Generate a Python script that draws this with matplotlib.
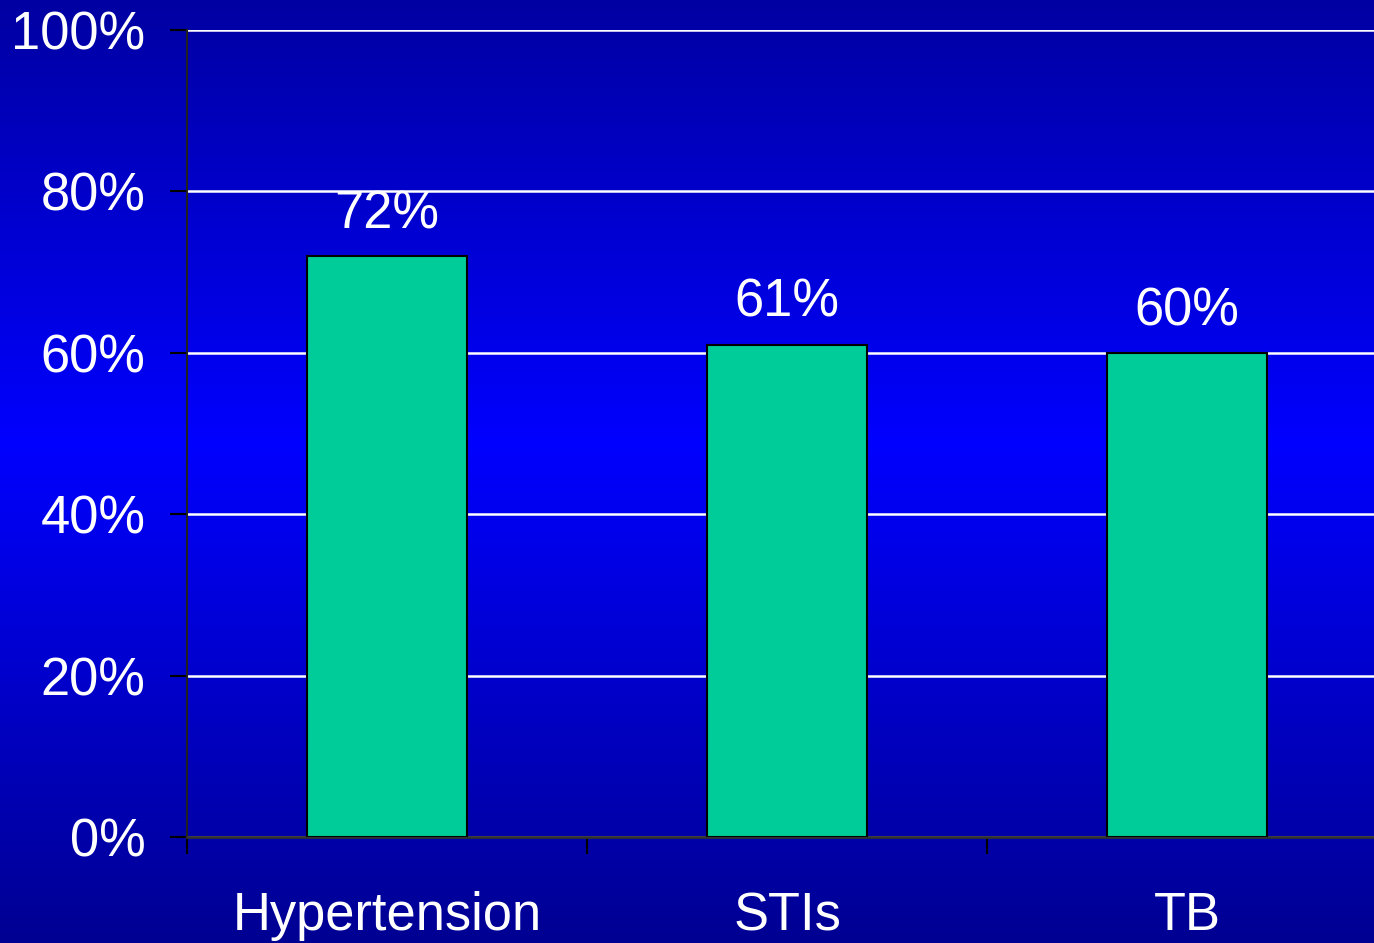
import numpy as np
import matplotlib.pyplot as plt
from matplotlib.colors import LinearSegmentedColormap
from matplotlib.ticker import FixedLocator

plt.rcParams['font.family'] = ['Liberation Sans', 'DejaVu Sans']

categories = ['Hypertension', 'STIs', 'TB']
values = [72, 61, 60]
value_labels = ['72%', '61%', '60%']
y_ticks = [0, 20, 40, 60, 80, 100]
y_tick_labels = ['0%', '20%', '40%', '60%', '80%', '100%']

fig = plt.figure(figsize=(13.74, 9.43), dpi=100)

# vertical gradient background
bg = fig.add_axes([0, 0, 1, 1], zorder=0)
cmap = LinearSegmentedColormap.from_list(
    'bg', [(0.0, '#0000A2'), (0.47, '#0000FF'), (1.0, '#000092')])
grad = np.linspace(0, 1, 256).reshape(-1, 1)
bg.imshow(grad, aspect='auto', cmap=cmap, extent=[0, 1, 0, 1], origin='upper')
bg.set_axis_off()

ax = fig.add_axes([187/1374, 106/943, 1200/1374, 807/943], zorder=1)
ax.patch.set_alpha(0)

x = np.arange(len(categories))
bars = ax.bar(x, values, width=0.4, color='#00CC99', edgecolor='black',
              linewidth=1.5, zorder=3)

fs = 37.8
for xi, v, lab in zip(x, values, value_labels):
    ax.annotate(lab, (xi, v), xytext=(0, 20), textcoords='offset points',
                ha='center', va='baseline', color='white', fontsize=fs)

ax.set_xlim(-0.5, len(categories) - 0.5)
ax.set_ylim(0, 100)
ax.set_yticks(y_ticks)
ax.set_yticklabels(y_tick_labels)
ax.yaxis.grid(True, color='white', linewidth=1.8, zorder=1)
ax.set_axisbelow(True)

ax.set_xticks(x)
ax.set_xticklabels(categories)
ax.xaxis.set_minor_locator(FixedLocator(np.arange(len(categories) + 1) - 0.5))
ax.tick_params(axis='x', which='major', length=0, pad=39, labelsize=fs,
               labelcolor='white')
ax.tick_params(axis='x', which='minor', length=12, width=1.5, color='black')
ax.tick_params(axis='y', length=12, width=1.5, color='black', pad=18,
               labelsize=fs, labelcolor='white')

for s in ['top', 'right']:
    ax.spines[s].set_visible(False)
ax.spines['left'].set_color('#202020')
ax.spines['bottom'].set_color('#303030')
ax.spines['left'].set_linewidth(1.5)
ax.spines['bottom'].set_linewidth(2)

fig.savefig('out.png', dpi=100)
